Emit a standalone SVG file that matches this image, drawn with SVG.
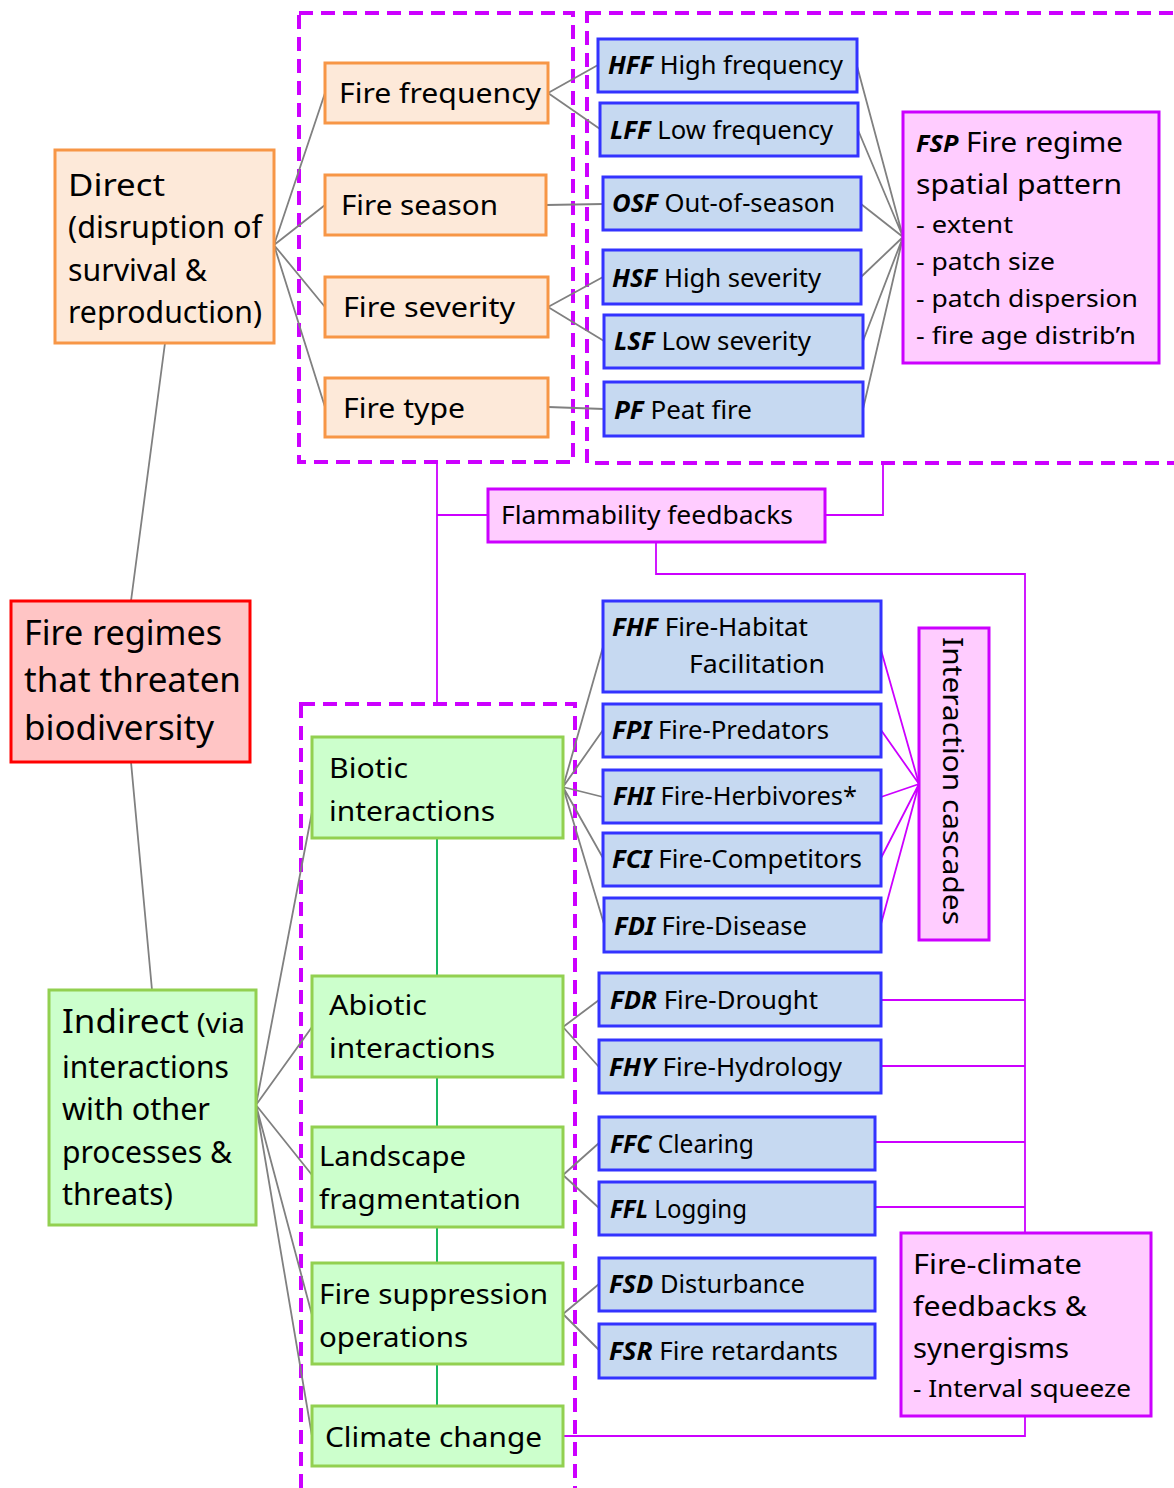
<svg xmlns="http://www.w3.org/2000/svg" width="1174" height="1488" viewBox="0 0 1174 1488">
<style>
text{font-family:"Noto Sans","Open Sans",sans-serif;fill:#000;}
.b{font-weight:bold;font-style:italic;}
.or{fill:#fde9d9;stroke:#f79646;stroke-width:3;}
.bl{fill:#c6d9f1;stroke:#3333ff;stroke-width:3;}
.gr{fill:#ccffcc;stroke:#92d050;stroke-width:3;}
.pk{fill:#ffccff;stroke:#cc00ff;stroke-width:3;}
.rd{fill:#ffc5c5;stroke:#ff0000;stroke-width:3;}
.dash{fill:none;stroke:#cc00ff;stroke-width:4;stroke-dasharray:14 8;}
.g{fill:none;stroke:#808080;stroke-width:1.8;}
.m{fill:none;stroke:#cc00ff;stroke-width:1.8;}
.gl{fill:none;stroke:#00b050;stroke-width:1.8;}
.s25{font-size:25px;}
.s28{font-size:28px;}
.s24{font-size:24px;}
</style>

<g id="groups">
<rect class="dash" x="299" y="13" width="274" height="449"/>
<rect class="dash" x="587" y="13" width="600" height="450"/>
<rect class="dash" x="301" y="704" width="274" height="800"/>
</g>

<g id="connectors">
<!-- Direct to fire attributes -->
<path class="g" d="M274 245 L325 93 M274 245 L325 205 M274 245 L325 307 M274 245 L325 407"/>
<path class="g" d="M548 93 L598 65 M548 93 L600 129 M546 205 L603 204 M548 307 L603 277 M548 307 L604 341 M548 407 L604 409"/>
<path class="g" d="M857 66 L903 237 M858 130 L903 237 M861 204 L903 237 M861 277 L903 237 M863 341 L903 237 M863 409 L903 237"/>
<path class="g" d="M165 343 L131 601 M131 762 L152 990"/>
<path class="g" d="M256 1105 L312 812 M256 1105 L312 1027 M256 1105 L312 1175 M256 1105 L312 1315 M256 1105 L312 1436"/>
<path class="g" d="M563 787 L603 647 M563 787 L603 730 M563 787 L603 797 M563 787 L603 858 M563 787 L604 924"/>
<path class="g" d="M563 1027 L599 1000 M563 1027 L599 1067 M563 1175 L599 1143 M563 1175 L599 1208 M563 1314 L599 1284 M563 1314 L599 1350"/>
<path class="gl" d="M437 838 L437 976 M437 1077 L437 1127 M437 1227 L437 1263 M437 1364 L437 1406"/>
<path class="m" d="M881 650 L919 784 M881 730 L919 784 M881 797 L919 784 M881 858 L919 784 M881 924 L919 784"/>
<path class="m" d="M437 462 L437 704 M437 515 L488 515 M825 515 L883 515 L883 463"/>
<path class="m" d="M656 542 L656 574 L1025 574 L1025 1233"/>
<path class="m" d="M881 1000 L1025 1000 M881 1066 L1025 1066 M875 1142 L1025 1142 M875 1207 L1025 1207"/>
<path class="m" d="M563 1436 L1025 1436 L1025 1416"/>
</g>

<g id="direct">
<rect class="or" x="55" y="150" width="219" height="193"/>
<text x="68" y="196" font-size="31" textLength="97" lengthAdjust="spacingAndGlyphs">Direct</text>
<text x="68" y="238" font-size="31" textLength="194" lengthAdjust="spacingAndGlyphs">(disruption of</text>
<text x="68" y="281" font-size="31" textLength="139" lengthAdjust="spacingAndGlyphs">survival &amp;</text>
<text x="68" y="323" font-size="31" textLength="194" lengthAdjust="spacingAndGlyphs">reproduction)</text>
</g>

<g id="fire-frequency"><rect class="or" x="325" y="63" width="223" height="60"/><text class="s28" x="339" y="103" textLength="202" lengthAdjust="spacingAndGlyphs">Fire frequency</text></g>
<g id="fire-season"><rect class="or" x="325" y="175" width="221" height="60"/><text class="s28" x="341" y="215" textLength="157" lengthAdjust="spacingAndGlyphs">Fire season</text></g>
<g id="fire-severity"><rect class="or" x="325" y="277" width="223" height="60"/><text class="s28" x="343" y="317" textLength="172" lengthAdjust="spacingAndGlyphs">Fire severity</text></g>
<g id="fire-type"><rect class="or" x="325" y="378" width="223" height="59"/><text class="s28" x="343" y="418" textLength="122" lengthAdjust="spacingAndGlyphs">Fire type</text></g>

<g id="hff"><rect class="bl" x="598" y="39" width="259" height="53"/><text class="s25" x="608" y="74" textLength="235" lengthAdjust="spacingAndGlyphs"><tspan class="b">HFF</tspan> High frequency</text></g>
<g id="lff"><rect class="bl" x="600" y="103" width="258" height="53"/><text class="s25" x="610" y="139" textLength="223" lengthAdjust="spacingAndGlyphs"><tspan class="b">LFF</tspan> Low frequency</text></g>
<g id="osf"><rect class="bl" x="603" y="177" width="258" height="53"/><text class="s25" x="612" y="212" textLength="223" lengthAdjust="spacingAndGlyphs"><tspan class="b">OSF</tspan> Out-of-season</text></g>
<g id="hsf"><rect class="bl" x="603" y="250" width="258" height="54"/><text class="s25" x="612" y="287" textLength="209" lengthAdjust="spacingAndGlyphs"><tspan class="b">HSF</tspan> High severity</text></g>
<g id="lsf"><rect class="bl" x="604" y="315" width="259" height="53"/><text class="s25" x="614" y="350" textLength="197" lengthAdjust="spacingAndGlyphs"><tspan class="b">LSF</tspan> Low severity</text></g>
<g id="pf"><rect class="bl" x="604" y="382" width="259" height="54"/><text class="s25" x="614" y="419" textLength="138" lengthAdjust="spacingAndGlyphs"><tspan class="b">PF</tspan> Peat fire</text></g>

<g id="fsp">
<rect class="pk" x="903" y="112" width="256" height="251"/>
<text class="s28" x="916" y="152" textLength="207" lengthAdjust="spacingAndGlyphs"><tspan class="b" font-size="24">FSP</tspan> Fire regime</text>
<text class="s28" x="916" y="194" textLength="206" lengthAdjust="spacingAndGlyphs">spatial pattern</text>
<text class="s24" x="916" y="233" textLength="97" lengthAdjust="spacingAndGlyphs">- extent</text>
<text class="s24" x="916" y="270" textLength="139" lengthAdjust="spacingAndGlyphs">- patch size</text>
<text class="s24" x="916" y="307" textLength="222" lengthAdjust="spacingAndGlyphs">- patch dispersion</text>
<text class="s24" x="916" y="344" textLength="220" lengthAdjust="spacingAndGlyphs">- fire age distrib’n</text>
</g>

<g id="flammability"><rect class="pk" x="488" y="489" width="337" height="53"/><text class="s25" x="501" y="524" textLength="292" lengthAdjust="spacingAndGlyphs">Flammability feedbacks</text></g>

<g id="fire-regimes">
<rect class="rd" x="11" y="601" width="239" height="161"/>
<text x="24" y="645" font-size="35" textLength="198" lengthAdjust="spacingAndGlyphs">Fire regimes</text>
<text x="24" y="692" font-size="35" textLength="217" lengthAdjust="spacingAndGlyphs">that threaten</text>
<text x="24" y="740" font-size="35" textLength="190" lengthAdjust="spacingAndGlyphs">biodiversity</text>
</g>

<g id="fhf"><rect class="bl" x="603" y="601" width="278" height="91"/><text class="s25" x="612" y="636" textLength="196" lengthAdjust="spacingAndGlyphs"><tspan class="b">FHF</tspan> Fire-Habitat</text><text class="s25" x="689" y="673" textLength="136" lengthAdjust="spacingAndGlyphs">Facilitation</text></g>
<g id="fpi"><rect class="bl" x="603" y="704" width="278" height="53"/><text class="s25" x="612" y="739" textLength="217" lengthAdjust="spacingAndGlyphs"><tspan class="b">FPI</tspan> Fire-Predators</text></g>
<g id="fhi"><rect class="bl" x="603" y="770" width="278" height="53"/><text class="s25" x="613" y="805" textLength="244" lengthAdjust="spacingAndGlyphs"><tspan class="b">FHI</tspan> Fire-Herbivores*</text></g>
<g id="fci"><rect class="bl" x="603" y="833" width="278" height="53"/><text class="s25" x="612" y="868" textLength="250" lengthAdjust="spacingAndGlyphs"><tspan class="b">FCI</tspan> Fire-Competitors</text></g>
<g id="fdi"><rect class="bl" x="604" y="898" width="277" height="54"/><text class="s25" x="614" y="935" textLength="193" lengthAdjust="spacingAndGlyphs"><tspan class="b">FDI</tspan> Fire-Disease</text></g>

<g id="interaction-cascades"><rect class="pk" x="919" y="628" width="70" height="312"/><text transform="translate(943 637) rotate(90)" font-family="DejaVu Sans,Verdana,sans-serif" font-size="28" textLength="288" lengthAdjust="spacingAndGlyphs">Interaction cascades</text></g>

<g id="indirect">
<rect class="gr" x="49" y="990" width="207" height="235"/>
<text x="62" y="1033" font-size="28" textLength="183" lengthAdjust="spacingAndGlyphs"><tspan font-size="33">Indirect</tspan> (via</text>
<text x="62" y="1078" font-size="30" textLength="167" lengthAdjust="spacingAndGlyphs">interactions</text>
<text x="62" y="1120" font-size="30" textLength="148" lengthAdjust="spacingAndGlyphs">with other</text>
<text x="62" y="1163" font-size="30" textLength="170" lengthAdjust="spacingAndGlyphs">processes &amp;</text>
<text x="62" y="1205" font-size="30" textLength="111" lengthAdjust="spacingAndGlyphs">threats)</text>
</g>

<g id="biotic"><rect class="gr" x="312" y="737" width="251" height="101"/><text class="s28" x="329" y="778" textLength="79" lengthAdjust="spacingAndGlyphs">Biotic</text><text class="s28" x="329" y="821" textLength="166" lengthAdjust="spacingAndGlyphs">interactions</text></g>
<g id="abiotic"><rect class="gr" x="312" y="976" width="251" height="101"/><text class="s28" x="329" y="1015" textLength="98" lengthAdjust="spacingAndGlyphs">Abiotic</text><text class="s28" x="329" y="1058" textLength="166" lengthAdjust="spacingAndGlyphs">interactions</text></g>
<g id="landscape"><rect class="gr" x="312" y="1127" width="251" height="100"/><text class="s28" x="319" y="1166" textLength="147" lengthAdjust="spacingAndGlyphs">Landscape</text><text class="s28" x="319" y="1209" textLength="202" lengthAdjust="spacingAndGlyphs">fragmentation</text></g>
<g id="suppression"><rect class="gr" x="312" y="1263" width="251" height="101"/><text class="s28" x="319" y="1304" textLength="229" lengthAdjust="spacingAndGlyphs">Fire suppression</text><text class="s28" x="319" y="1347" textLength="149" lengthAdjust="spacingAndGlyphs">operations</text></g>
<g id="climate"><rect class="gr" x="312" y="1406" width="251" height="60"/><text class="s28" x="325" y="1447" textLength="217" lengthAdjust="spacingAndGlyphs">Climate change</text></g>

<g id="fdr"><rect class="bl" x="599" y="973" width="282" height="53"/><text class="s25" x="610" y="1009" textLength="208" lengthAdjust="spacingAndGlyphs"><tspan class="b">FDR</tspan> Fire-Drought</text></g>
<g id="fhy"><rect class="bl" x="599" y="1040" width="282" height="53"/><text class="s25" x="609" y="1076" textLength="233" lengthAdjust="spacingAndGlyphs"><tspan class="b">FHY</tspan> Fire-Hydrology</text></g>
<g id="ffc"><rect class="bl" x="599" y="1117" width="276" height="53"/><text class="s25" x="610" y="1153" textLength="144" lengthAdjust="spacingAndGlyphs"><tspan class="b">FFC</tspan> Clearing</text></g>
<g id="ffl"><rect class="bl" x="599" y="1182" width="276" height="53"/><text class="s25" x="610" y="1218" textLength="137" lengthAdjust="spacingAndGlyphs"><tspan class="b">FFL</tspan> Logging</text></g>
<g id="fsd"><rect class="bl" x="599" y="1258" width="276" height="53"/><text class="s25" x="609" y="1293" textLength="196" lengthAdjust="spacingAndGlyphs"><tspan class="b">FSD</tspan> Disturbance</text></g>
<g id="fsr"><rect class="bl" x="599" y="1324" width="276" height="54"/><text class="s25" x="609" y="1360" textLength="229" lengthAdjust="spacingAndGlyphs"><tspan class="b">FSR</tspan> Fire retardants</text></g>

<g id="fire-climate">
<rect class="pk" x="901" y="1233" width="250" height="183"/>
<text class="s28" x="913" y="1274" textLength="169" lengthAdjust="spacingAndGlyphs">Fire-climate</text>
<text class="s28" x="913" y="1316" textLength="174" lengthAdjust="spacingAndGlyphs">feedbacks &amp;</text>
<text class="s28" x="913" y="1358" textLength="156" lengthAdjust="spacingAndGlyphs">synergisms</text>
<text class="s24" x="913" y="1397" textLength="218" lengthAdjust="spacingAndGlyphs">- Interval squeeze</text>
</g>
</svg>
